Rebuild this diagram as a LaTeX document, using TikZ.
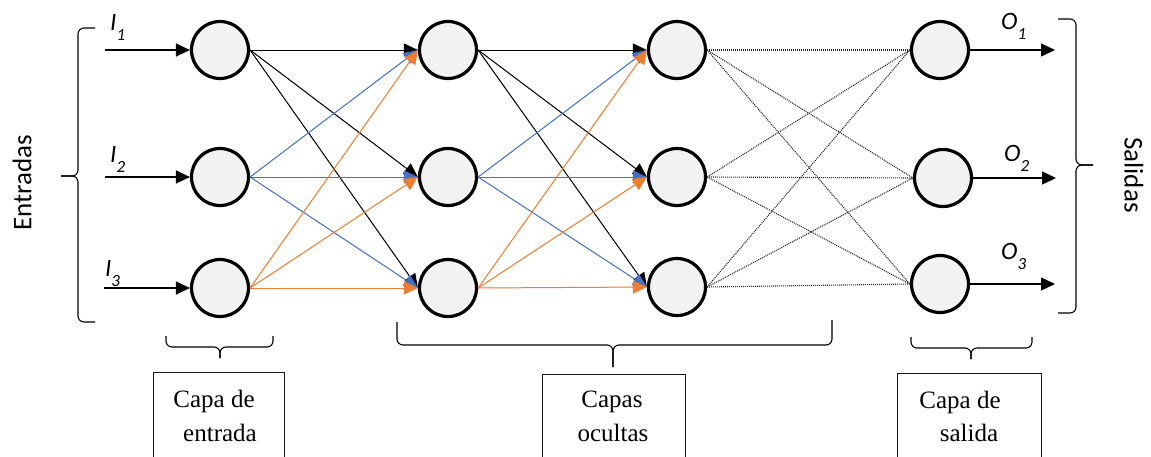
\documentclass[tikz,border=0pt]{standalone}
\usepackage{fontspec}
\setmainfont{Liberation Serif}
\newfontfamily\calibri{Carlito}
\usetikzlibrary{arrows.meta,calc}
\definecolor{wblue}{HTML}{4472C4}
\definecolor{worange}{HTML}{ED7D31}
\definecolor{nodefill}{HTML}{F2F2F2}
\newcommand{\subidx}[1]{\raisebox{-10pt}{\fontsize{17}{17}\selectfont #1}}

\begin{document}
\begin{tikzpicture}[x=1pt,y=-1pt,
  neuron/.style={circle,draw=black,line width=3.2pt,fill=nodefill,minimum size=57pt,inner sep=0pt},
  tip/.style={-{Triangle[length=14pt,width=13pt]}},
  link/.style={line width=1pt,tip},
  feed/.style={line width=1.3pt,tip},
  weak/.style={line width=1.1pt,dash pattern=on 1pt off 1pt,draw=black!85},
  brace/.style={line width=1.1pt,rounded corners=6pt},
  caption/.style={draw=black!90,line width=1pt,minimum height=100pt,inner sep=0pt,anchor=north},
  capline/.style={font=\fontsize{25}{25}\selectfont,anchor=base,inner sep=0pt},
  sym/.style={font=\calibri\itshape\fontsize{25}{25}\selectfont,anchor=base west,inner sep=0pt},
  side/.style={font=\calibri\fontsize{27}{27}\selectfont,inner sep=0pt}
]
\useasboundingbox (0,0) rectangle (1151,456);
\clip (0,0) rectangle (1151,456);

% layers of neurons
\node[neuron] (a1) at (220,50) {};
\node[neuron] (a2) at (220,177) {};
\node[neuron] (a3) at (220,288) {};
\node[neuron] (b1) at (448,50) {};
\node[neuron] (b2) at (448,177) {};
\node[neuron] (b3) at (448,288) {};
\node[neuron] (c1) at (677,50) {};
\node[neuron] (c2) at (677,177) {};
\node[neuron] (c3) at (677,287) {};
\node[neuron] (d1) at (940,50) {};
\node[neuron] (d2) at (943,178) {};
\node[neuron] (d3) at (940,284) {};

% inputs and outputs
\coordinate (in1) at (105,50);
\coordinate (in2) at (105,177);
\coordinate (in3) at (104,288);
\coordinate (out1) at (1055,50);
\coordinate (out2) at (1056,178);
\coordinate (out3) at (1055,284);
\foreach \i in {1,2,3} {
  \draw[feed] (in\i) -- (a\i);
  \draw[feed] (d\i) -- (out\i);
}

% weighted connections
\foreach \s/\col in {1/black,2/wblue,3/worange} {
  \foreach \t in {1,2,3} {
    \draw[link,draw=\col,fill=\col] (a\s.east) -- (b\t.west);
  }
}
\foreach \s/\col in {1/black,2/wblue,3/worange} {
  \foreach \t in {1,2,3} {
    \draw[link,draw=\col,fill=\col] (b\s.east) -- (c\t.west);
  }
}
\foreach \s in {1,2,3} {
  \foreach \t in {1,2,3} {
    \draw[weak] (c\s.east) -- (d\t.west);
  }
}

% symbols
\node[sym] (i1) at (110,30) {I\subidx{1}};
\node[sym] (i2) at (110,162) {I\subidx{2}};
\node[sym] (i3) at (105,276) {I\subidx{3}};
\node[sym] (o1) at (1001,29) {O\subidx{1}};
\node[sym] (o2) at (1004,161) {O\subidx{2}};
\node[sym] (o3) at (1001,259) {O\subidx{3}};

% side braces
\draw[brace] (95,28) -- (78,28) -- (78,176) -- (61,176);
\draw[brace] (95,322) -- (78,322) -- (78,176) -- (61,176);
\draw[brace] (1058,19) -- (1076,19) -- (1076,165) -- (1093,165);
\draw[brace] (1058,313) -- (1076,313) -- (1076,165) -- (1093,165);
\node[side,rotate=90] (entr) at (22,183) {Entradas};
\node[side,rotate=-90] (sal) at (1134,175) {Salidas};

% bottom braces
\draw[brace] (166,336) -- (166,347) -- (220,347) -- (220,358);
\draw[brace] (273,336) -- (273,347) -- (220,347) -- (220,358);
\draw[brace] (397,322) -- (397,345) -- (613,345) -- (613,367);
\draw[brace] (832,320) -- (832,345) -- (613,345) -- (613,367);
\draw[brace] (911,337) -- (911,348) -- (971,348) -- (971,359);
\draw[brace] (1032,337) -- (1032,348) -- (971,348) -- (971,359);

% captions
\node[caption,minimum width=131pt] (capin) at (218.5,372) {};
\node[caption,minimum width=143pt] (caphid) at (613.5,374) {};
\node[caption,minimum width=144pt] (capout) at (969,373) {};
\node[capline] (capin1) at (214,407) {Capa de};
\node[capline] (capin2) at (220,441) {entrada};
\node[capline] (caphid1) at (612,407) {Capas};
\node[capline] (caphid2) at (613,441) {ocultas};
\node[capline] (capout1) at (960,408) {Capa de};
\node[capline] (capout2) at (969,441) {salida};
\end{tikzpicture}
\end{document}
